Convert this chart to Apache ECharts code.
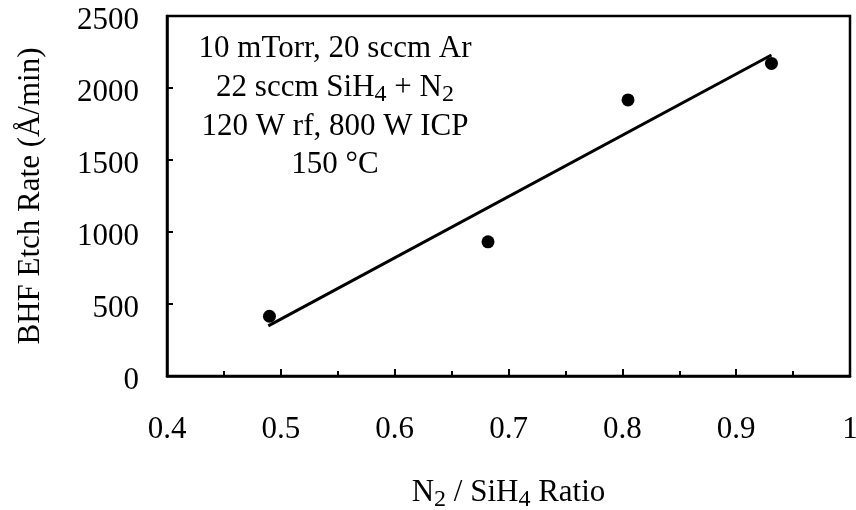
<!DOCTYPE html>
<html><head><meta charset="utf-8">
<script src="https://cdn.jsdelivr.net/npm/echarts@6/dist/echarts.min.js"></script>
<style>html,body{margin:0;padding:0;background:#fff}#c{width:856px;height:510px}</style>
</head><body><div id="c"></div>
<script>
// measured data
const ratio = [0.490, 0.682, 0.805, 0.931];
const etchRate = [415, 932, 1917, 2171];
// linear fit line endpoints (as drawn)
const fitX = [0.489, 0.931];
const fitY = [348, 2229];
// annotation lines
const noteLines = [
  '{b|10 mTorr, 20 sccm Ar}',
  '{b|22 sccm SiH}{s|4}{b| + N}{s|2}',
  '{b|120 W rf, 800 W ICP}',
  '{b|150 °C}'
];
const xTitle = '{b|N}{s|2}{b| / SiH}{s|4}{b| Ratio}';
const yTitle = 'BHF Etch Rate (Å/min)';

const FONT = 'Liberation Serif';
const F = 31;
const rich = {
  b: {fontFamily: FONT, fontSize: F, lineHeight: 38, verticalAlign: 'middle', color: '#000'},
  s: {fontFamily: FONT, fontSize: 24, lineHeight: 24, verticalAlign: 'bottom', color: '#000'}
};

const chart = echarts.init(document.getElementById('c'), null, {renderer: 'canvas'});
const lineYs = [49, 88, 127, 165];
chart.setOption({
  animation: false,
  backgroundColor: '#fff',
  grid: {left: 167, right: 6, top: 16, bottom: 134, show: true, borderColor: '#000', borderWidth: 2.5,
         backgroundColor: 'transparent', containLabel: false, outerBoundsMode: 'none'},
  xAxis: {
    type: 'value', min: 0.4, max: 1.0, interval: 0.1,
    axisLine: {show: true, onZero: false, lineStyle: {color: '#000', width: 2.5}},
    axisTick: {show: true, inside: true, length: 7, lineStyle: {color: '#000', width: 2}},
    minorTick: {show: true, splitNumber: 2, length: 5, lineStyle: {color: '#000', width: 2}},
    splitLine: {show: false},
    axisLabel: {fontFamily: FONT, fontSize: F, color: '#000', margin: 38,
      formatter: v => String(Math.round(v * 10) / 10)},
    name: xTitle, nameLocation: 'middle', nameGap: 98,
    nameTextStyle: {rich: rich}
  },
  yAxis: {
    type: 'value', min: 0, max: 2500, interval: 500,
    axisLine: {show: true, onZero: false, lineStyle: {color: '#000', width: 2.5}},
    axisTick: {show: true, inside: true, length: 6, lineStyle: {color: '#000', width: 2}},
    splitLine: {show: false},
    axisLabel: {color: '#000', margin: 28,
      formatter: v => '{v|' + v + '}',
      rich: {v: {fontFamily: FONT, fontSize: F, color: '#000', lineHeight: 34, padding: [10, 0, 0, 0]}}},
    name: yTitle, nameLocation: 'middle', nameGap: 121, nameRotate: 90,
    nameTextStyle: {fontFamily: FONT, fontSize: F, color: '#000'}
  },
  graphic: noteLines.map((t, i) => ({type: 'text', x: 335, y: lineYs[i], z: 10,
    style: {text: t, rich: rich, align: 'center', verticalAlign: 'middle'}})),
  series: [
    {type: 'line', data: fitX.map((x, i) => [x, fitY[i]]), showSymbol: false, symbol: 'none',
     lineStyle: {color: '#000', width: 3}, z: 2},
    {type: 'scatter', data: ratio.map((x, i) => [x, etchRate[i]]), symbol: 'circle', symbolSize: 13,
     itemStyle: {color: '#000', opacity: 1}, z: 3}
  ]
});
</script></body></html>
